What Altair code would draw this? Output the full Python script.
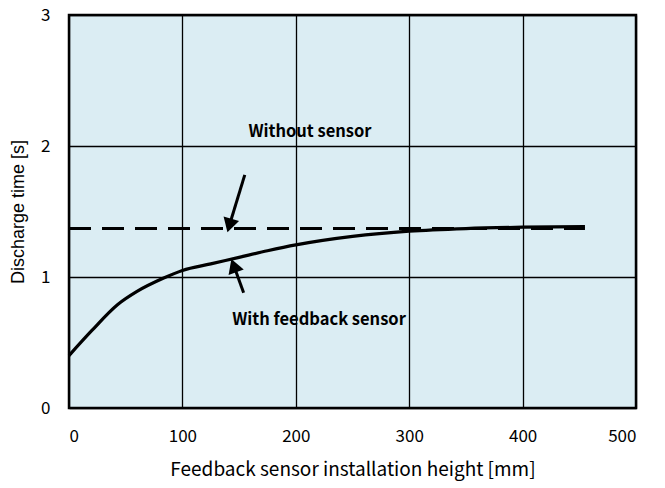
import altair as alt
import pandas as pd

# Data
with_x = [0, 20, 43, 60, 83, 100, 125, 150, 175, 200, 250, 300, 350, 400, 455]
with_y = [0.40, 0.59, 0.79, 0.89, 0.99, 1.05, 1.10, 1.15, 1.20, 1.245, 1.31, 1.35, 1.37, 1.38, 1.385]
without_x = [0, 455]
without_y = [1.37, 1.37]

labels = ["Without sensor", "With feedback sensor"]
label_x = [212.5, 220.5]
label_y = [2.11, 0.67]

arrow_tail_x = [155, 154]
arrow_tail_y = [1.78, 0.88]
arrow_tip_x = [142, 146]
arrow_tip_y = [1.41, 1.07]
arrow_angle = [196, 340]

FONT_JP = "Noto Sans CJK JP"
FONT_EN = "Liberation Sans"

df_with = pd.DataFrame({"x": with_x, "y": with_y})
df_without = pd.DataFrame({"x": without_x, "y": without_y})
df_lab = pd.DataFrame({"t": labels, "x": label_x, "y": label_y})
df_arr = pd.DataFrame({"x": arrow_tail_x, "y": arrow_tail_y, "x2": arrow_tip_x, "y2": arrow_tip_y, "a": arrow_angle})

xs = alt.Scale(domain=[0, 500], nice=False, zero=False)
ys = alt.Scale(domain=[0, 3], nice=False, zero=False)

xax = alt.Axis(values=[0, 100, 200, 300, 400, 500], format="d", title="Feedback sensor installation height [mm]",
               grid=True, gridColor="black", gridWidth=1.3, gridOpacity=1, ticks=False, domain=False,
               labelFont=FONT_JP, labelFontSize=17, labelPadding=20, labelColor="black",
               titleFont=FONT_JP, titleFontSize=19, titleFontWeight="normal", titlePadding=16, titleColor="black")
yax = alt.Axis(values=[0, 1, 2, 3], format="d", title="Discharge time [s]",
               grid=True, gridColor="black", gridWidth=1.3, gridOpacity=1, ticks=False, domain=False,
               labelFont=FONT_JP, labelFontSize=17, labelPadding=19, labelColor="black",
               titleFont=FONT_EN, titleFontSize=18, titleFontWeight="normal", titlePadding=13, titleColor="black")

base_with = alt.Chart(df_with).mark_line(color="black", strokeWidth=3.2, interpolate="monotone").encode(
    x=alt.X("x:Q", scale=xs, axis=xax),
    y=alt.Y("y:Q", scale=ys, axis=yax),
)
dashed = alt.Chart(df_without).mark_line(color="black", strokeWidth=3, strokeDash=[22, 11]).encode(
    x=alt.X("x:Q", scale=xs), y=alt.Y("y:Q", scale=ys)
)
texts = alt.Chart(df_lab).mark_text(font=FONT_JP, fontSize=16.5, fontWeight="bold", align="center",
                                    baseline="middle", color="black").encode(
    x=alt.X("x:Q", scale=xs), y=alt.Y("y:Q", scale=ys), text="t:N"
)
shafts = alt.Chart(df_arr).mark_rule(color="black", strokeWidth=3).encode(
    x=alt.X("x:Q", scale=xs), y=alt.Y("y:Q", scale=ys), x2="x2:Q", y2="y2:Q"
)
heads = alt.Chart(df_arr).mark_point(shape="triangle", filled=True, color="black", size=260, opacity=1).encode(
    x=alt.X("x2:Q", scale=xs), y=alt.Y("y2:Q", scale=ys), angle=alt.Angle("a:Q", scale=None)
)

chart = alt.layer(base_with, dashed, shafts, heads, texts).properties(
    width=567, height=393, padding={"left": 61, "top": 7, "right": 15, "bottom": 76},
    autosize=alt.AutoSizeParams(type="none"),
).configure_view(fill="#dbedf3", stroke="black", strokeWidth=2.5)

chart.save("out.html", embed_options={"renderer": "svg", "actions": False})
